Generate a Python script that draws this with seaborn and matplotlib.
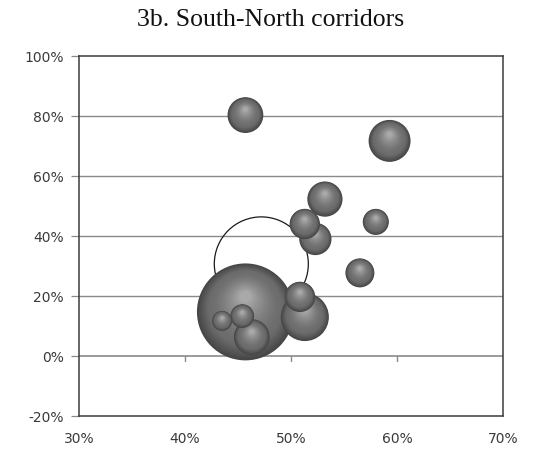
import numpy as np
import pandas as pd
import matplotlib
matplotlib.use("Agg")
import matplotlib.pyplot as plt
import seaborn as sns
from matplotlib.colors import to_rgb, to_hex

# ---- data (fractions) ----
x_share = [0.457, 0.593, 0.532, 0.580, 0.513, 0.523, 0.565, 0.457, 0.513, 0.5085, 0.454, 0.435, 0.463]
y_share = [0.803, 0.717, 0.523, 0.447, 0.440, 0.390, 0.277, 0.147, 0.130, 0.197, 0.133, 0.117, 0.063]
bubble_size = [3.2, 4.4, 3.1, 1.7, 2.3, 2.6, 2.1, 23.5, 5.8, 2.3, 1.4, 1.0, 3.2]
# negative-size bubble (drawn hollow)
neg_x = [0.472]
neg_y = [0.307]
neg_size = [-22.1]

x_ticks = [0.3, 0.4, 0.5, 0.6, 0.7]
y_ticks = [-0.2, 0.0, 0.2, 0.4, 0.6, 0.8, 1.0]
title = "3b. South-North corridors"

# ---- figure ----
W, H, DPI = 537, 456, 100
sns.set_theme(style="white")
plt.rcParams["font.family"] = ["DejaVu Sans"]
fig = plt.figure(figsize=(W / DPI, H / DPI), dpi=DPI)
L, R, T, B = 79, 503, 57, 417
ax = fig.add_axes([L / W, 1 - B / H, (R - L) / W, (B - T) / H])
ax.set_xlim(0.3, 0.7)
ax.set_ylim(-0.2, 1.0)
px_per_y = (B - T) / 1.2

S_PER_UNIT = 207.36  # marker area (pt^2) per size unit

# hollow bubble
hol = pd.DataFrame({"x": neg_x, "y": neg_y, "s": [abs(v) * S_PER_UNIT for v in neg_size]})
sns.scatterplot(data=hol, x="x", y="y", s=hol["s"].iloc[0], facecolor="none",
                edgecolor="#1a1a1a", linewidth=0.9, ax=ax, zorder=3, legend=False)

# shaded spheres: layers per bubble, drawn biggest first
N = 24
dark = np.array(to_rgb("#474747"))
mid = np.array(to_rgb("#6c6c6c"))
light = np.array(to_rgb("#a9a9a9"))
palette = {}
for k in range(N):
    t = k / (N - 1)
    if t < 0.25:
        c = dark + (mid - dark) * (t / 0.25)
    else:
        c = mid + (light - mid) * ((t - 0.25) / 0.75) ** 1.6
    palette[f"L{k:02d}"] = to_hex(c)
order = np.argsort(bubble_size)[::-1]
rows = []
for i in order:
    size = bubble_size[i]
    r_px = np.sqrt(size * 100)
    for k in range(N):
        f = 1 - 0.88 * k / (N - 1)
        off_px = (1 - f) * r_px * 0.36
        rows.append({"x": x_share[i], "y": y_share[i] + off_px / px_per_y,
                     "s": size * S_PER_UNIT * f * f, "layer": f"L{k:02d}"})
df = pd.DataFrame(rows)
smin, smax = df["s"].min(), df["s"].max()
sns.scatterplot(data=df, x="x", y="y", hue="layer", palette=palette, size="s",
                sizes=(smin, smax), size_norm=(smin, smax), linewidth=0,
                ax=ax, zorder=4, legend=False)

# grid and axes
for yv in [0.2, 0.4, 0.6, 0.8]:
    ax.axhline(yv, color="#8a8a8a", lw=1.0, zorder=1)
ax.axhline(0.0, color="#8a8a8a", lw=1.2, zorder=1)
for xv in x_ticks[1:-1]:
    ax.plot([xv, xv], [0.0, -0.016], color="#8a8a8a", lw=1.0, zorder=1)

for sp in ax.spines.values():
    sp.set_visible(True)
    sp.set_color("#3c3c3c")
    sp.set_linewidth(1.1)

ax.set_xticks(x_ticks)
ax.set_xticklabels([f"{int(round(v * 100))}%" for v in x_ticks])
ax.set_yticks(y_ticks)
ax.set_yticklabels([f"{int(round(v * 100))}%" for v in y_ticks])
ax.tick_params(axis="x", length=0, pad=11, labelsize=10, labelcolor="#3a3a3a")
ax.tick_params(axis="y", length=6, width=0.9, color="#8a8a8a", direction="out",
               pad=5, labelsize=10, labelcolor="#3a3a3a", left=True)
ax.set_xlabel("")
ax.set_ylabel("")
ax.grid(False)

fig.text(271 / W, 1 - 20 / H, title, ha="center", va="center",
         fontsize=18.5, family=["Liberation Serif", "DejaVu Serif"], color="#111111")

fig.savefig("out.png", dpi=DPI)
